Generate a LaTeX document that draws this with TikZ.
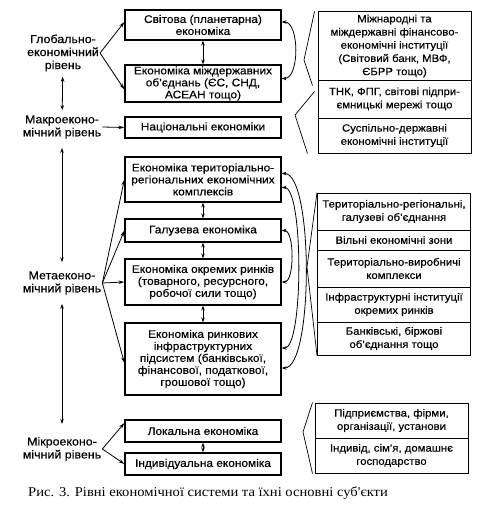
\documentclass[tikz,border=0pt]{standalone}
\usepackage{fontspec}
\setmainfont[FakeStretch=1.08,FakeBold=0.4]{Liberation Sans}
\newfontfamily\capfont[FakeStretch=1.08]{Liberation Serif}
\usetikzlibrary{arrows.meta}

\tikzset{
  lvl/.style={align=center, inner sep=1pt, font=\fontsize{11.5}{13}\selectfont},
  eco/.style={draw, line width=1.2pt, minimum width=156pt, align=center,
    inner sep=0.5pt, font=\fontsize{11}{12}\selectfont},
  subj/.style={draw, line width=1pt, minimum width=153pt, align=center,
    inner sep=0.5pt, font=\fontsize{10.5}{13.2}\selectfont},
  arr/.style={-{Stealth[length=6pt,width=3.5pt]}, line width=0.8pt},
  darr/.style={{Stealth[length=5pt,width=3.5pt]}-{Stealth[length=5pt,width=3.5pt]}, line width=0.8pt},
  brk/.style={line width=0.7pt}
}

\begin{document}
\begin{tikzpicture}[x=1pt, y=-1pt]
  \useasboundingbox (0,0) rectangle (485,519);

  % levels
  \node[lvl] at (63,53)  (glob)  {Глобально-\\економічний\\рівень};
  \node[lvl] at (62,127) (macro) {Макроеконо-\\мічний рівень};
  \node[lvl] at (62,283) (meta)  {Метаеконо-\\мічний рівень};
  \node[lvl] at (62,449) (micro) {Мікроеконо-\\мічний рівень};

  % economies
  \node[eco, minimum height=30pt] at (203,25)    (c1) {Світова (планетарна)\\економіка};
  \node[eco, minimum height=37pt] at (203,83.5)  (c2) {Економіка міждержавних\\об'єднань (ЄС, СНД,\\АСЕАН тощо)};
  \node[eco, minimum height=21pt] at (203,127.5) (c3) {Національні економіки};
  \node[eco, minimum height=45pt] at (203,179.5) (c4) {Економіка територіально-\\регіональних економічних\\комплексів};
  \node[eco, minimum height=23pt] at (203,230.5) (c5) {Галузева економіка};
  \node[eco, minimum height=46pt] at (203,282)   (c6) {Економіка окремих ринків\\(товарного, ресурсного,\\робочої сили тощо)};
  \node[eco, minimum height=72pt] at (203,359)   (c7) {Економіка ринкових\\інфраструктурних\\підсистем (банківської,\\фінансової, податкової,\\грошової тощо)};
  \node[eco, minimum height=22pt] at (203,431)   (c8) {Локальна економіка};
  \node[eco, minimum height=22pt] at (203,464)   (c9) {Індивідуальна економіка};

  % subjects
  \node[subj, minimum height=68pt] at (394.5,46)    (r1) {Міжнародні та\\міждержавні фінансово-\\економічні інституції\\(Світовий банк, МВФ,\\ЄБРР тощо)};
  \node[subj, minimum height=38pt] at (394.5,99)    (r2) {ТНК, ФПГ, світові підпри-\\ємницькі мережі тощо};
  \node[subj, minimum height=35pt] at (394.5,135.5) (r3) {Суспільно-державні\\економічні інституції};
  \node[subj, minimum height=37pt] at (394,211.5)   (r4) {Територіально-регіональні,\\галузеві об'єднання};
  \node[subj, minimum height=20pt] at (394,240)     (r5) {Вільні економічні зони};
  \node[subj, minimum height=37pt] at (394,268.5)   (r6) {Територіально-виробничі\\комплекси};
  \node[subj, minimum height=35pt] at (394,304.5)   (r7) {Інфраструктурні інституції\\окремих ринків};
  \node[subj, minimum height=33pt] at (394,338.5)   (r8) {Банківські, біржові\\об'єднання тощо};
  \node[subj, minimum height=35pt] at (391.5,420.5) (r9) {Підприємства, фірми,\\організації, установи};
  \node[subj, minimum height=35pt] at (391.5,455.5) (r10) {Індивід, сім'я, домашнє\\господарство};

  \node[font=\capfont\fontsize{13.5}{15}\selectfont] at (208,493) (cap)
    {Рис. 3. Рівні економічної системи та їхні основні суб'єкти};

  % level links
  \draw[darr, shorten <=4pt, shorten >=4pt] (glob) -- (macro);
  \draw[darr, shorten <=8pt, shorten >=8pt] (macro) -- (meta);
  \draw[darr, shorten <=8pt, shorten >=12pt] (meta) -- (micro);

  \draw[arr] (glob.east) -- ([yshift=3pt]c1.west);
  \draw[arr] (glob.east) -- ([yshift=-6pt]c2.west);
  \draw[arr] (macro.east) -- (c3.west);
  \draw[arr] (meta.east) -- (c4.west);
  \draw[arr] (meta.east) -- (c5.west);
  \draw[arr] (meta.east) -- (c6.west);
  \draw[arr] (meta.east) -- ([yshift=-4pt]c7.west);
  \draw[arr] (micro.east) -- ([yshift=8pt]c8.west);
  \draw[arr] (micro.east) -- (c9.west);

  % between economies
  \draw[darr] (c1) -- (c2);
  \draw[darr] (c4) -- (c5);
  \draw[darr] (c5) -- (c6);
  \draw[darr] (c6) -- (c7);
  \draw[darr] (c8) -- (c9);

  \draw[darr] ([yshift=3pt]c1.east) .. controls +(18,0) and +(18,0) .. ([yshift=5pt]c2.east);
  \draw[darr] ([yshift=6pt]c4.east) .. controls +(32,0) and +(32,0) .. ([yshift=-9pt]c7.east);
  \draw[darr] ([yshift=-8pt]c4.east) .. controls +(22,0) and +(22,0) .. ([yshift=11pt]c7.east);
  \draw[darr] (c5.east) .. controls +(13,0) and +(13,0) .. (c6.east);

  % brackets
  \coordinate (b1) at (304,60);
  \coordinate (b2) at (295,115);
  \coordinate (b3) at (307,267);
  \coordinate (b4) at (303,432);
  \draw[brk] ([xshift=-3pt]r1.north west) -- (b1) -- ([xshift=-5pt,yshift=-5pt]r1.south west);
  \draw[brk] ([xshift=-3pt,yshift=-12pt]r2.north west) -- (b2) -- ([xshift=-10pt]r3.south west);
  \draw[brk] (r4.north west) -- (b3) -- (r8.south west);
  \draw[brk] ([xshift=-2pt]r9.north west) -- (b4) -- ([xshift=-2pt]r10.south west);
\end{tikzpicture}
\end{document}
